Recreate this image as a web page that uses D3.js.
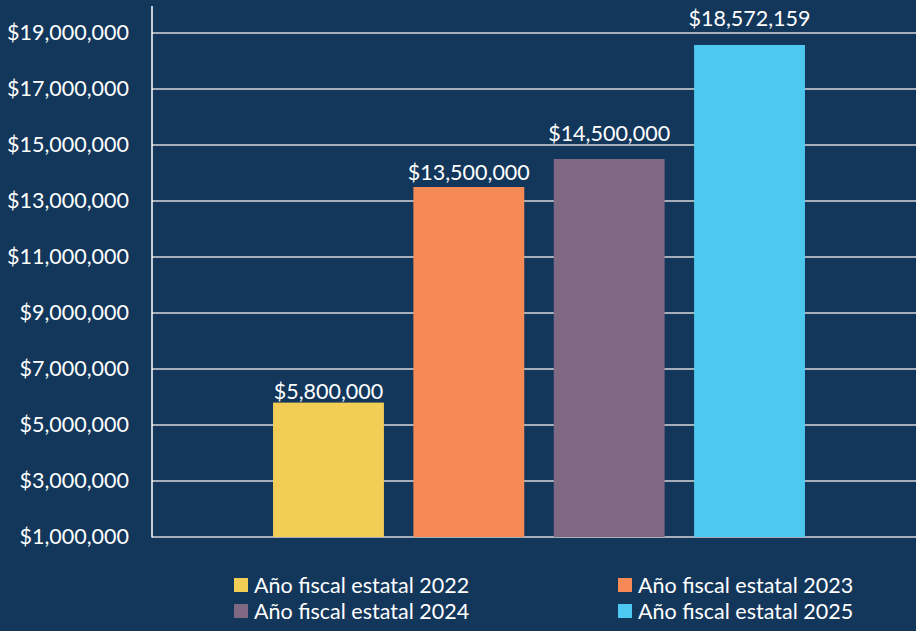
<!DOCTYPE html>
<html><head><meta charset="utf-8">
<script src="https://cdn.jsdelivr.net/npm/d3@7"></script>
<style>html,body{margin:0;padding:0;background:#13375b;}svg{display:block;}</style>
</head><body>
<svg id="c" width="916" height="631"></svg>
<script>
const categories = ["Año fiscal estatal 2022","Año fiscal estatal 2023","Año fiscal estatal 2024","Año fiscal estatal 2025"];
const values = [5800000, 13500000, 14500000, 18572159];
const colors = ["#f2ce56","#f68a57","#7f6882","#4dc8f1"];
const tickValues = [1000000,3000000,5000000,7000000,9000000,11000000,13000000,15000000,17000000,19000000];

(function () {
const svg = d3.select("#c");
const font = "Lato, 'Open Sans', sans-serif";
const fs = "21.5px";
const mLeft = 152, mRight = 916, mTop = 5, mBottom = 537;
const labelGap = [4, 7, 18, 19];
const y = d3.scaleLinear().domain([1000000, 20000000]).range([mBottom, mTop]);
const x = d3.scaleBand().domain(categories).range([258.3, 819.7]).paddingInner(0.21).paddingOuter(0.105);
const fmt = v => "$" + d3.format(",")(v);

// gridlines
svg.append("g").selectAll("line").data(tickValues).join("line")
  .attr("x1", mLeft).attr("x2", mRight)
  .attr("y1", d => y(d)).attr("y2", d => y(d))
  .attr("stroke", "#d9d9d9").attr("stroke-width", 1.5);

// y axis
const yAxis = svg.append("g").attr("transform", `translate(${mLeft},0)`)
  .call(d3.axisLeft(y).tickValues(tickValues).tickFormat(fmt).tickSize(0).tickPadding(23));
yAxis.select(".domain").remove();
yAxis.selectAll("text").attr("fill", "#ffffff").style("font-family", font).style("font-size", fs);
svg.append("line").attr("x1", mLeft).attr("x2", mLeft).attr("y1", 6).attr("y2", mBottom + 0.5)
  .attr("stroke", "#ffffff").attr("stroke-width", 1.5);

// bars
svg.append("g").selectAll("rect").data(values).join("rect")
  .attr("x", (d, i) => x(categories[i]))
  .attr("width", x.bandwidth())
  .attr("y", d => y(d))
  .attr("height", d => mBottom - y(d))
  .attr("fill", (d, i) => colors[i]);

// labels
svg.append("g").selectAll("text").data(values).join("text")
  .attr("x", (d, i) => x(categories[i]) + x.bandwidth() / 2)
  .attr("y", (d, i) => y(d) - labelGap[i])
  .attr("text-anchor", "middle")
  .attr("fill", "#ffffff").style("font-family", font).style("font-size", fs)
  .text(fmt);

// legend
const legPos = [[234, 578], [618, 578], [234, 604], [618, 604]];
const leg = svg.append("g").selectAll("g").data(categories).join("g")
  .attr("transform", (d, i) => `translate(${legPos[i][0]},${legPos[i][1]})`);
leg.append("rect").attr("width", 14).attr("height", 14).attr("fill", (d, i) => colors[i]);
leg.append("text").attr("x", 20).attr("y", 7).attr("dy", "0.35em")
  .attr("fill", "#ffffff").style("font-family", font).style("font-size", fs)
  .text(d => d);
})();
</script>
</body></html>
